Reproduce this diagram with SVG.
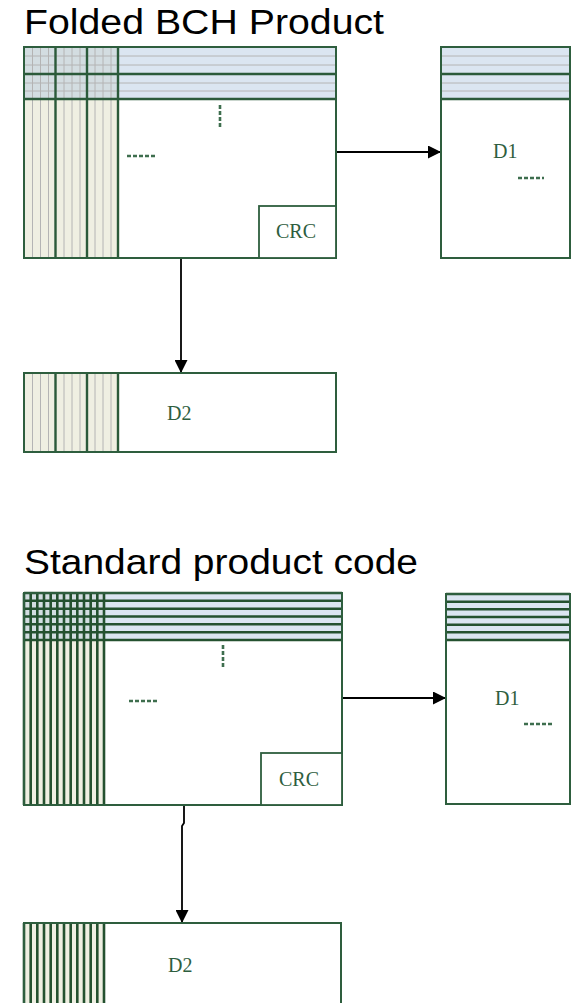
<svg xmlns="http://www.w3.org/2000/svg" width="571" height="1003" viewBox="0 0 571 1003">
<defs>
<style>
.title{font-family:"Liberation Sans",Arial,sans-serif;font-size:35px;fill:#000}
.lbl{font-family:"Liberation Serif","Times New Roman",serif;font-size:20px;fill:#2e5e3e}
.box{fill:#fff;stroke:#2e5e3e;stroke-width:1.8}
.boxn{fill:none;stroke:#2e5e3e;stroke-width:2}
.thick{stroke:#2b5a3a;stroke-width:2.4;fill:none}
.thk2{stroke:#24512f;stroke-width:2.6;fill:none}
.thin{stroke:#b4b4b4;stroke-width:1;fill:none}
.blue{fill:#dbe5f1}
.beige{fill:#efefe2}
.ovl{fill:#d3dde1}
.dash{stroke:#3e6e4e;stroke-width:2.6;stroke-dasharray:4 2;fill:none}
.conn{stroke:#000;stroke-width:1.8;fill:none}
</style>
<marker id="ah" viewBox="0 0 12 12" refX="12" refY="6" markerWidth="13" markerHeight="13" markerUnits="userSpaceOnUse" orient="auto">
<path d="M0,0 L12,6 L0,12 Z" fill="#000"/>
</marker>
</defs>
<rect width="571" height="1003" fill="#fff"/>

<text class="title" x="24" y="34" textLength="360" lengthAdjust="spacingAndGlyphs">Folded BCH Product</text>
<text class="title" x="24" y="574" textLength="394" lengthAdjust="spacingAndGlyphs">Standard product code</text>

<g id="connectors">
<line class="conn" x1="336" y1="152" x2="441" y2="152" marker-end="url(#ah)"/>
<line class="conn" x1="181" y1="258" x2="181" y2="373" marker-end="url(#ah)"/>
<line class="conn" x1="342" y1="698" x2="446" y2="698" marker-end="url(#ah)"/>
<path class="conn" d="M184,805 V823 L182,826 V923" marker-end="url(#ah)"/>
</g>

<g id="folded-main">
<rect class="box" x="24" y="47" width="312" height="211"/>
<rect class="blue" x="24" y="47" width="312" height="52"/>
<rect class="beige" x="24" y="99" width="94" height="159"/>
<rect class="ovl" x="24" y="47" width="94" height="52"/>
<path class="thin" d="M24,56H336M24,65H336M24,83H336M24,91H336"/>
<path class="thin" d="M32.5,47V258M40.5,47V258M48.5,47V258M64,47V258M72,47V258M80,47V258M95,47V258M103,47V258M111,47V258"/>
<path class="thick" d="M55.5,47V258M87,47V258M118,47V258M24,74H336M24,99H336"/>
<rect class="boxn" x="24" y="47" width="312" height="211"/>
<path class="dash" d="M220,105V127"/>
<path class="dash" d="M127,156H155"/>
</g>
<g id="folded-crc">
<rect class="box" x="259" y="206" width="77" height="52"/>
<text class="lbl" x="276" y="238">CRC</text>
</g>
<g id="folded-d1">
<rect class="box" x="441" y="47" width="129" height="211"/>
<rect class="blue" x="441" y="47" width="129" height="52"/>
<path class="thin" d="M441,56H570M441,65H570M441,83H570M441,91H570"/>
<path class="thick" d="M441,74H570M441,99H570"/>
<rect class="boxn" x="441" y="47" width="129" height="211"/>
<text class="lbl" x="493" y="158">D1</text>
<path class="dash" d="M518,178H544"/>
</g>
<g id="folded-d2">
<rect class="box" x="24" y="373" width="312" height="79"/>
<rect class="beige" x="24" y="373" width="94" height="79"/>
<path class="thin" d="M32.5,373V452M40.5,373V452M48.5,373V452M64,373V452M72,373V452M80,373V452M95,373V452M103,373V452M111,373V452"/>
<path class="thick" d="M55.5,373V452M87,373V452M118,373V452"/>
<rect class="boxn" x="24" y="373" width="312" height="79"/>
<text class="lbl" x="167" y="420">D2</text>
</g>

<g id="std-main">
<rect class="box" x="24" y="593" width="318" height="212"/>
<rect class="blue" x="24" y="593" width="318" height="47"/>
<rect class="beige" x="24" y="640" width="80" height="165"/>
<rect class="ovl" x="24" y="593" width="80" height="47"/>
<path class="thk2" d="M24,593H342M24,600.8H342M24,608.7H342M24,616.5H342M24,624.3H342M24,632.2H342M24,640H342"/>
<path class="thk2" d="M24,593V805M30.7,593V805M37.3,593V805M44,593V805M50.7,593V805M57.3,593V805M64,593V805M70.7,593V805M77.3,593V805M84,593V805M90.7,593V805M97.3,593V805M104,593V805"/>
<rect class="boxn" x="24" y="593" width="318" height="212"/>
<path class="dash" d="M223,645V667"/>
<path class="dash" d="M129,701H157"/>
</g>
<g id="std-crc">
<rect class="box" x="261" y="753" width="81" height="52"/>
<text class="lbl" x="279" y="786">CRC</text>
</g>
<g id="std-d1">
<rect class="box" x="446" y="594" width="124" height="210"/>
<rect class="blue" x="446" y="594" width="124" height="46"/>
<path class="thk2" d="M446,594H570M446,601.7H570M446,609.3H570M446,617H570M446,624.7H570M446,632.3H570M446,640H570"/>
<rect class="boxn" x="446" y="594" width="124" height="210"/>
<text class="lbl" x="495" y="705">D1</text>
<path class="dash" d="M524,724H553"/>
</g>
<g id="std-d2">
<rect class="box" x="24" y="923" width="317" height="90"/>
<rect class="beige" x="24" y="923" width="80" height="90"/>
<path class="thk2" d="M24,923V1003M30.7,923V1003M37.3,923V1003M44,923V1003M50.7,923V1003M57.3,923V1003M64,923V1003M70.7,923V1003M77.3,923V1003M84,923V1003M90.7,923V1003M97.3,923V1003M104,923V1003"/>
<rect class="boxn" x="24" y="923" width="317" height="90"/>
<text class="lbl" x="168" y="972">D2</text>
</g>
</svg>
